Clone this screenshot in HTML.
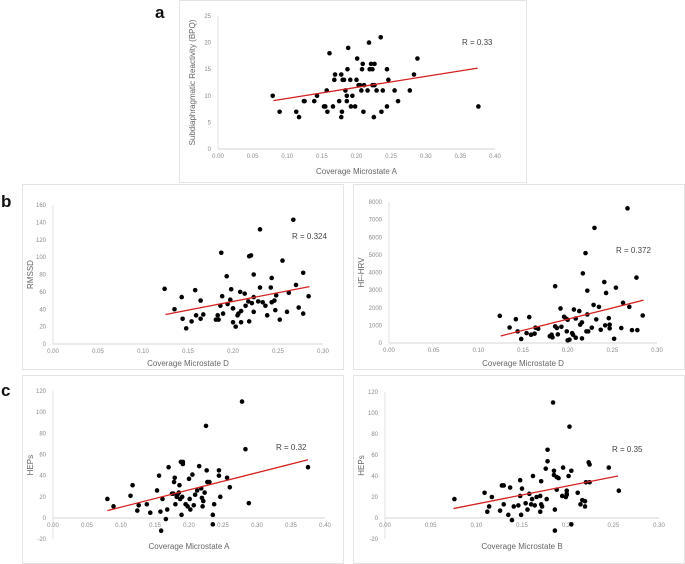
<!DOCTYPE html>
<html><head><meta charset="utf-8"><style>
body{margin:0;background:#fff;width:685px;height:564px;overflow:hidden}
svg{display:block;font-family:"Liberation Sans",sans-serif}
.tk{font-size:6px;fill:#8a8a8a}
.tt{font-size:8px;fill:#666}
.rl{font-size:8px;fill:#444}
.pl{font-size:17px;font-weight:bold;fill:#111}
</style></head><body>
<svg id="fig" width="685" height="564">
<text class="pl" x="155" y="18">a</text>
<text class="pl" x="1" y="207">b</text>
<text class="pl" x="1" y="396">c</text>
</svg>
<script>
// Panel a: Coverage Microstate A vs Subdiaphragmatic Reactivity
const aX=[0.079,0.089,0.113,0.117,0.124,0.125,0.139,0.143,0.153,0.155,0.157,0.158,0.161,0.166,0.168,0.169,0.175,0.178,0.178,0.179,0.18,0.182,0.184,0.186,0.186,0.187,0.188,0.191,0.192,0.194,0.198,0.2,0.201,0.203,0.205,0.207,0.208,0.209,0.21,0.211,0.216,0.218,0.219,0.221,0.223,0.223,0.225,0.226,0.226,0.229,0.235,0.236,0.238,0.244,0.244,0.246,0.255,0.26,0.277,0.283,0.288,0.376];
const aY=[10,7,7,6,9,9,9,10,8,8,11,7,18,8,13,14,9,14,6,7,13,13,11,10,9,15,19,13,8,10,8,13,17,12,12,11,15,16,7,12,11,20,15,16,15,12,6,12,16,11,21,7,11,8,15,13,11,9,11,14,17,8];
const aTrend=[0.08,9.1,0.375,15.2];
// Panel b-left: Coverage Microstate D vs RMSSD
const bX=[0.124,0.135,0.143,0.144,0.148,0.154,0.158,0.159,0.164,0.164,0.167,0.181,0.183,0.184,0.186,0.187,0.188,0.189,0.193,0.194,0.197,0.198,0.2,0.2,0.2,0.203,0.205,0.206,0.208,0.209,0.209,0.213,0.214,0.217,0.218,0.22,0.218,0.221,0.223,0.223,0.223,0.228,0.23,0.23,0.233,0.236,0.238,0.242,0.243,0.243,0.246,0.247,0.248,0.252,0.255,0.26,0.262,0.267,0.27,0.273,0.278,0.278,0.284];
const bY=[63.5,40,54,29,18,26,62,33,29,50,34,28,33,28,44,105,55,35,78,46,51,63,41,41,25,20,33,35,60,38,25,58,44,49,101,102,26,47,80,54,37,49,132,65,48,44,33,65,76,48,50,39,56,28,96,37,59,143,68,42,82,35,55];
const bTrend=[0.125,34,0.285,66];
// Panel b-right: Coverage Microstate D vs HF-HRV
const cX=[0.124,0.135,0.142,0.144,0.148,0.154,0.157,0.159,0.163,0.164,0.167,0.18,0.182,0.183,0.186,0.186,0.188,0.189,0.192,0.193,0.196,0.198,0.199,0.2,0.2,0.202,0.205,0.206,0.207,0.209,0.209,0.213,0.214,0.216,0.216,0.217,0.22,0.221,0.223,0.222,0.222,0.227,0.23,0.229,0.232,0.235,0.237,0.241,0.242,0.243,0.246,0.247,0.247,0.254,0.252,0.26,0.262,0.267,0.269,0.272,0.277,0.278,0.284];
const cY=[1540,880,1350,660,230,560,1470,470,530,870,810,380,470,320,3220,940,850,490,1960,920,1490,1390,660,1320,150,190,560,470,1900,300,1390,1810,1040,1170,260,3950,5100,660,660,2970,1620,870,6530,2160,1340,2050,750,3460,1000,2840,1410,1040,830,3140,240,850,2280,7640,2050,730,3710,730,1560];
const cTrend=[0.125,400,0.285,2430];
// Panel c-left: Coverage Microstate A vs HEPs
const dX=[0.08,0.089,0.114,0.117,0.124,0.126,0.138,0.143,0.153,0.156,0.158,0.159,0.161,0.166,0.168,0.17,0.175,0.177,0.178,0.179,0.18,0.182,0.183,0.185,0.186,0.187,0.188,0.191,0.189,0.19,0.191,0.195,0.198,0.2,0.201,0.202,0.205,0.207,0.209,0.212,0.215,0.218,0.219,0.221,0.22,0.223,0.225,0.226,0.227,0.23,0.235,0.235,0.237,0.244,0.244,0.246,0.256,0.26,0.278,0.283,0.288,0.375];
const dY=[18,11,21,31,7,12,13,5,26,40,6,-12,18,-1,8,48,23,23,34,38,13,20,22,24,31,18,53,53,3,20,51,13,11,37,18,8,41,12,22,26,49,28,19,16,11,24,87,45,34,34,3,-6,13,45,40,20,38,29,110,65,14,48];
const dTrend=[0.08,7,0.375,55];
// Panel c-right: Coverage Microstate B vs HEPs
const eX=[0.076,0.109,0.112,0.114,0.117,0.126,0.128,0.13,0.13,0.135,0.137,0.139,0.141,0.146,0.148,0.148,0.149,0.15,0.154,0.156,0.158,0.16,0.161,0.162,0.164,0.166,0.17,0.17,0.171,0.172,0.171,0.176,0.177,0.178,0.178,0.184,0.185,0.185,0.186,0.186,0.188,0.188,0.19,0.194,0.195,0.198,0.199,0.199,0.199,0.201,0.202,0.204,0.204,0.211,0.214,0.216,0.219,0.219,0.22,0.223,0.224,0.224,0.245,0.256];
const eY=[18,24,6,11,20,7,31,31,13,3,29,-2,11,12,36,21,3,28,14,8,23,13,18,40,12,20,21,6,13,11,35,47,18,65,54,110,45,41,8,-12,27,39,38,21,48,20,26,23,22,40,87,45,-6,24,13,17,16,11,34,53,51,34,48,26];
const eTrend=[0.075,9,0.255,40];

const NS='http://www.w3.org/2000/svg';
const svg=document.getElementById('fig');
function mk(tag,attrs,parent){const e=document.createElementNS(NS,tag);for(const k in attrs)e.setAttribute(k,attrs[k]);(parent||svg).appendChild(e);return e;}

const panels=[
 {id:'a',box:[179,0,527,183],x0:218,x1:495,xmax:0.4,xstep:0.05,yz:149,ytop:16,ymin:0,ymax:25,ystep:5,xs:X=>X.toFixed(2),ys:v=>v,xt:'Coverage Microstate A',yt:'Subdiaphragmatic Reactivity (BPQ)',ytx:195,xty:174,r:[462,45,'R = 0.33'],X:aX,Y:aY,T:aTrend},
 {id:'b-left',box:[22,184,344,370],x0:53,x1:323,xmax:0.3,xstep:0.05,yz:344,ytop:205,ymin:0,ymax:160,ystep:20,xt:'Coverage Microstate D',yt:'RMSSD',ytx:33,xty:366,r:[292,239,'R = 0.324'],X:bX,Y:bY,T:bTrend},
 {id:'b-right',box:[353,184,685,370],x0:389,x1:657,xmax:0.3,xstep:0.05,yz:343,ytop:202,ymin:0,ymax:8000,ystep:1000,xt:'Coverage Microstate D',yt:'HF-HRV',ytx:364,xty:366,r:[616,253,'R = 0.372'],X:cX,Y:cY,T:cTrend},
 {id:'c-left',box:[22,375,344,564],x0:53,x1:325,xmax:0.4,xstep:0.05,yz:518,ytop:391,ymin:-20,ymax:120,ystep:20,xt:'Coverage Microstate A',yt:'HEPs',ytx:33,xty:549,r:[276,450,'R = 0.32'],X:dX,Y:dY,T:dTrend},
 {id:'c-right',box:[353,375,685,564],x0:385,x1:659,xmax:0.3,xstep:0.05,yz:518,ytop:392,ymin:-20,ymax:120,ystep:20,xt:'Coverage Microstate B',yt:'HEPs',ytx:364,xty:549,r:[612,452,'R = 0.35'],X:eX,Y:eY,T:eTrend}
];

panels.forEach(p=>{
 const g=mk('g',{});
 
 
 const b=p.box;
 const box=mk('rect',{x:b[0]+0.5,y:b[1]+0.5,width:b[2]-b[0]-1,height:b[3]-b[1]-1,fill:'none',stroke:'#e4e4e4'},g);
 
 
 const sx=v=>p.x0+v/p.xmax*(p.x1-p.x0);
 const sy=v=>p.yz-v/p.ymax*(p.yz-p.ytop);
 const ybot=sy(p.ymin);
 const xa=mk('line',{x1:p.x0,x2:p.x1,y1:p.yz,y2:p.yz,stroke:'#d6d6d6','stroke-width':1},g);
 
 
 const ya=mk('line',{x1:p.x0,x2:p.x0,y1:ybot,y2:p.ytop,stroke:'#e0e0e0','stroke-width':1},g);
 
 
 const nx=Math.round(p.xmax/p.xstep);
 for(let i=0;i<=nx;i++){
  const v=i*p.xstep;
  const t=mk('text',{x:sx(v),y:p.yz+9,'text-anchor':'middle',class:'tk'},g);
  t.textContent=v.toFixed(2);
  
  
 }
 for(let v=p.ymin;v<=p.ymax;v+=p.ystep){
  const t=mk('text',{x:p.x0-7,y:sy(v)+2,'text-anchor':'end',class:'tk'},g);
  t.textContent=v;
  
  
 }
 const xt=mk('text',{x:(p.x0+p.x1)/2,y:p.xty,'text-anchor':'middle',class:'tt'},g);
 xt.textContent=p.xt;
 
 
 const cy=(p.ytop+ybot)/2;
 const yt=mk('text',{x:p.ytx,y:cy,'text-anchor':'middle',class:'tt',transform:`rotate(-90 ${p.ytx} ${cy})`},g);
 yt.textContent=p.yt;
 
 
 p.X.forEach((xv,i)=>{
  const c=mk('circle',{cx:sx(xv),cy:sy(p.Y[i]),r:2.3,fill:'#000'},g);
  
  
 });
 const tl=mk('line',{x1:sx(p.T[0]),y1:sy(p.T[1]),x2:sx(p.T[2]),y2:sy(p.T[3]),stroke:'#d42020','stroke-width':1.3},g);
 
 
 const rl=mk('text',{x:p.r[0],y:p.r[1],class:'rl'},g);
 rl.textContent=p.r[2];
 
 
});
</script>
</body></html>
